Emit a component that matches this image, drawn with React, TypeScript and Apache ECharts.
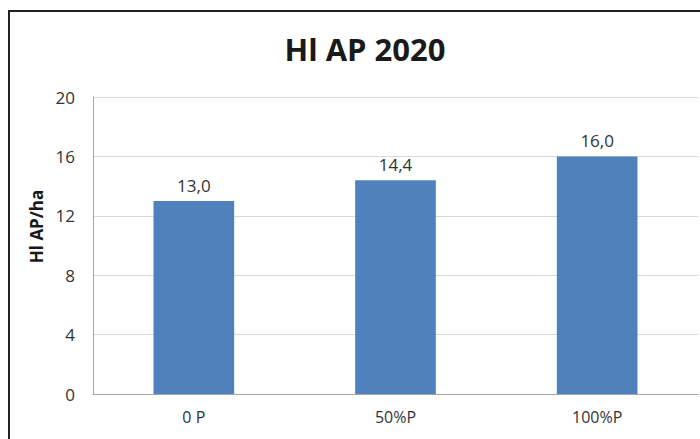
import React, { useEffect, useRef } from "react";
import * as echarts from "echarts";

const categories = ["0 P", "50%P", "100%P"];
const values = [13.0, 14.4, 16.0];
const titleText = "Hl AP 2020";
const yAxisName = "Hl AP/ha";

export default function App() {
  const ref = useRef<HTMLDivElement>(null);
  useEffect(() => {
    const chart = echarts.init(ref.current!, null, { renderer: "svg" });
    const font = "'Open Sans', 'Liberation Sans', sans-serif";
    chart.setOption({
      animation: false,
      backgroundColor: "#ffffff",
      title: {
        text: titleText,
        left: 360,
        top: 28,
        textAlign: "center",
        textStyle: { fontFamily: font, fontSize: 31, fontWeight: "bold", color: "#1a1a1a" },
      },
      graphic: [
        { type: "line", shape: { x1: 8, y1: 11, x2: 700, y2: 11 }, style: { stroke: "#222", lineWidth: 2 } },
        { type: "line", shape: { x1: 9, y1: 11, x2: 9, y2: 439 }, style: { stroke: "#222", lineWidth: 2 } },
      ],
      grid: { left: 93, right: 2, top: 97, bottom: 45, containLabel: false },
      xAxis: {
        type: "category",
        data: categories,
        axisLine: { lineStyle: { color: "#a6a6a6", width: 1 } },
        axisTick: { show: false },
        splitLine: { show: false },
        axisLabel: { fontFamily: font, fontSize: 16, color: "#333", margin: 15 },
      },
      yAxis: {
        type: "value",
        min: 0,
        max: 20,
        interval: 4,
        name: yAxisName,
        nameLocation: "middle",
        nameGap: 48,
        nameRotate: 90,
        nameTextStyle: {
          fontFamily: font,
          fontSize: 17,
          fontWeight: "bold",
          color: "#1a1a1a",
          padding: [0, 0, 0, 38],
        },
        axisLine: { show: true, lineStyle: { color: "#a6a6a6" } },
        axisTick: { show: false },
        splitLine: { lineStyle: { color: "#d9d9d9" } },
        axisLabel: { fontFamily: font, fontSize: 17, color: "#333", margin: 18 },
      },
      series: [
        {
          type: "bar",
          data: values,
          barWidth: "40%",
          itemStyle: { color: "#4F81BD" },
          label: {
            show: true,
            position: "top",
            distance: 7,
            fontFamily: font,
            fontSize: 17,
            color: "#333",
            formatter: (p: any) => p.value.toFixed(1).replace(".", ","),
          },
        },
      ],
    });
    return () => chart.dispose();
  }, []);
  return <div ref={ref} style={{ position: "absolute", left: 0, top: 0, width: 700, height: 439 }} />;
}
